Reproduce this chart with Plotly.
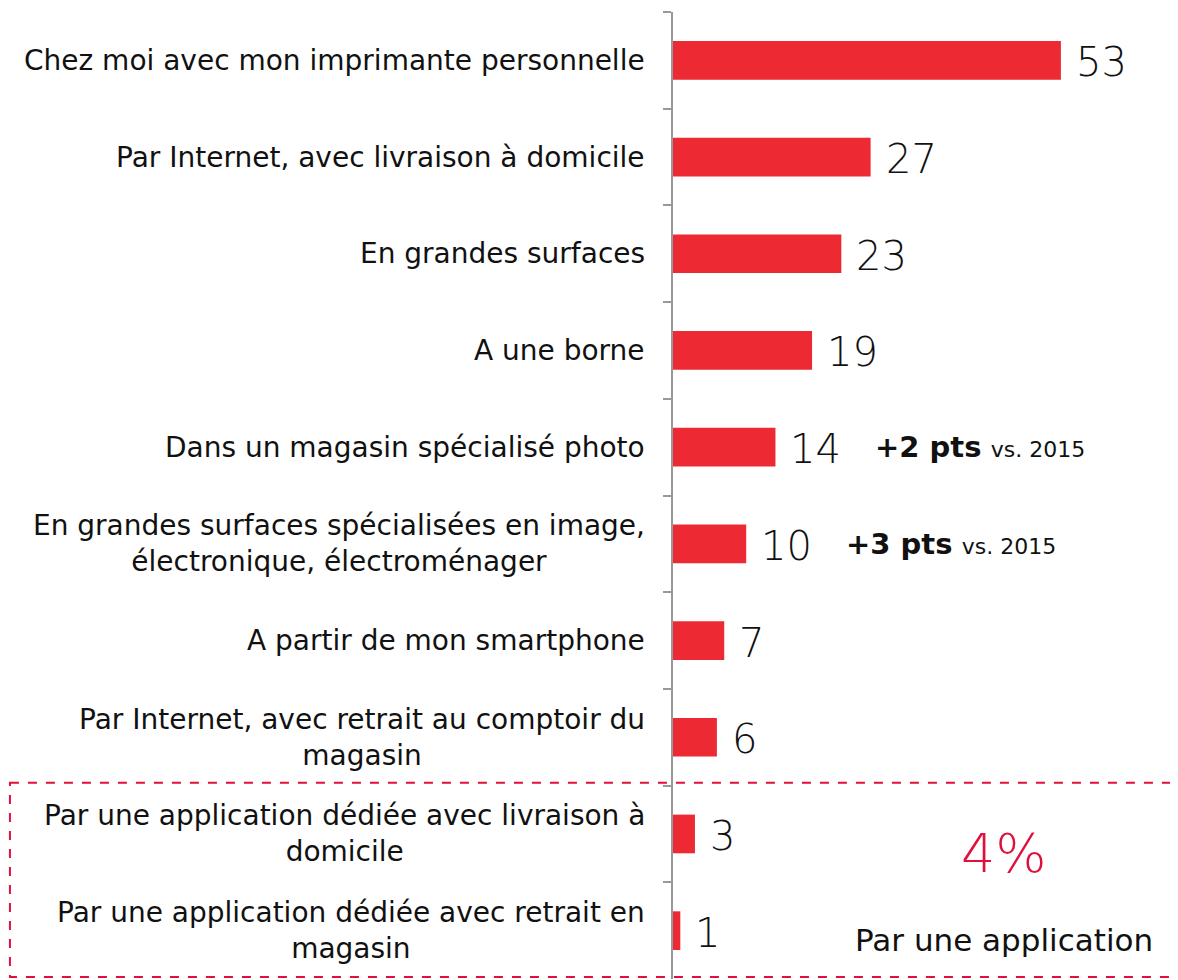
import plotly.graph_objects as go

categories = [
    "Chez moi avec mon imprimante personnelle",
    "Par Internet, avec livraison à domicile",
    "En grandes surfaces",
    "A une borne",
    "Dans un magasin spécialisé photo",
    "En grandes surfaces spécialisées en image,<br>électronique, électroménager",
    "A partir de mon smartphone",
    "Par Internet, avec retrait au comptoir du<br>magasin",
    "Par une application dédiée avec livraison à<br>domicile",
    "Par une application dédiée avec retrait en<br>magasin",
]
values = [53, 27, 23, 19, 14, 10, 7, 6, 3, 1]
deltas = {4: ("+2 pts", "vs. 2015"), 5: ("+3 pts", "vs. 2015")}
highlight_value = "4%"
highlight_label = "Par une application"

BAR = "#ED2A33"
RED = "#E0103C"
LABEL_FONT = "DejaVu Sans"

fig = go.Figure()
fig.add_trace(go.Bar(
    x=values, y=categories, orientation="h",
    marker=dict(color=BAR, line=dict(width=0)),
    hoverinfo="skip",
))

ann = []
for i, (c, v) in enumerate(zip(categories, values)):
    ann.append(dict(x=0, xref="paper", y=c, yref="y", text=c, showarrow=False,
                    xanchor="right", yanchor="middle", align="center", xshift=-26,
                    font=dict(family=LABEL_FONT, size=28, color="#111")))
    ann.append(dict(x=v, xref="x", y=c, yref="y", text=str(v), showarrow=False,
                    xanchor="left", yanchor="middle", xshift=13, yshift=-2,
                    font=dict(family=LABEL_FONT, size=40, color="#111", weight=300)))
for i, (a, b) in deltas.items():
    ann.append(dict(x=values[i], xref="x", y=categories[i], yref="y",
                    text=f"<b>{a}</b> <span style='font-size:22px'>{b}</span>",
                    showarrow=False, xanchor="left", yanchor="middle",
                    xshift=98, yshift=0,
                    font=dict(family=LABEL_FONT, size=29, color="#111")))

ann.append(dict(x=0.655, xref="paper", y=8.2, yref="y", text=highlight_value,
                showarrow=False, xanchor="center", yanchor="middle",
                font=dict(family=LABEL_FONT, size=54, color=RED, weight=300)))
ann.append(dict(x=0.655, xref="paper", y=9.1, yref="y", text=highlight_label,
                showarrow=False, xanchor="center", yanchor="middle",
                font=dict(family=LABEL_FONT, size=31, color="#111")))

fig.add_shape(type="rect", xref="paper", yref="y",
              x0=-1.313, x1=1.05, y0=7.47, y1=9.48,
              line=dict(color=RED, width=2, dash="dash"), fillcolor="rgba(0,0,0,0)")

fig.update_layout(
    width=1170, height=972,
    margin=dict(l=665, r=0, t=4, b=1),
    paper_bgcolor="white", plot_bgcolor="white",
    bargap=0.6, showlegend=False,
    annotations=ann,
    xaxis=dict(range=[0, 69], visible=False, showgrid=False, zeroline=False),
    yaxis=dict(type="category", range=[9.5, -0.5], showticklabels=False,
               ticks="outside", tickson="boundaries", ticklen=8, tickwidth=1.5,
               tickcolor="#999", showline=True, linecolor="#999", linewidth=1.5,
               showgrid=False, zeroline=False),
)

fig.write_html("out.html")
